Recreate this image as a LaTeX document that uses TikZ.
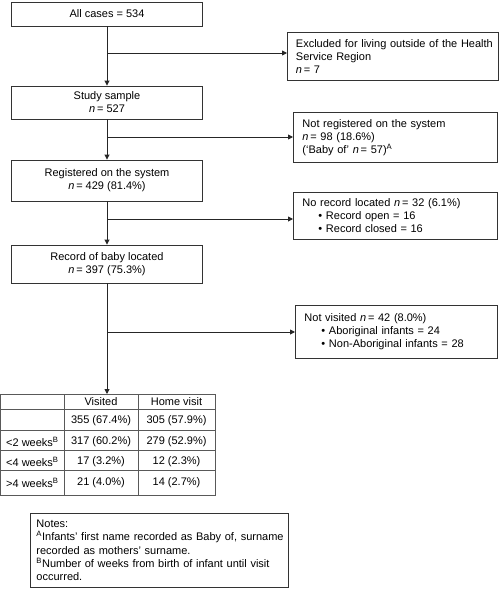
\documentclass[tikz,border=0pt]{standalone}
\usepackage{fontspec}
\setmainfont{Liberation Sans}
\usetikzlibrary{arrows.meta}
\begin{document}
\begin{tikzpicture}[x=1pt,y=1pt,
  every node/.style={font=\fontsize{11}{13}\selectfont, inner sep=0pt},
  lbox/.style={draw=black!80, line width=0.9pt, minimum width=191pt, align=center},
  rbox/.style={draw=black!80, line width=0.9pt, align=left, anchor=north west, inner xsep=9pt},
  conn/.style={draw=black!85, line width=0.9pt},
  arr/.style={conn, -{Triangle[length=5pt,width=5pt]}},
  tline/.style={draw=black!65, line width=0.9pt},
  celltxt/.style={anchor=center},
  rowhead/.style={anchor=west}]
\useasboundingbox (0,0) rectangle (500,-589);

% main column
\node[lbox, minimum height=24pt] (all) at (107,-14) {All cases = 534};
\node[lbox, minimum height=33pt] (study) at (107,-102.5) {Study sample\\ \textit{n}\,= 527};
\node[lbox, minimum height=41pt] (reg) at (107,-180.5) {Registered on the system\\ \textit{n}\,= 429 (81.4\%)};
\node[lbox, minimum height=38pt] (rec) at (107,-264) {Record of baby located\\ \textit{n}\,= 397 (75.3\%)};

% side boxes
\node[rbox, text width=194pt, inner xsep=8.5pt, minimum height=48pt] (excl) at (287,-32)
  {\mbox{Excluded for living outside of the Health}\\ \mbox{Service Region}\\ \textit{n}\,= 7};
\node[rbox, text width=186pt, minimum height=50pt] (notreg) at (293,-112)
  {\mbox{Not registered on the system}\\ \mbox{\textit{n}\,= 98 (18.6\%)}\\ \mbox{(‘Baby of’ \textit{n}\,= 57)\textsuperscript{A}}};
\node[rbox, text width=186pt, minimum height=47pt] (norec) at (293,-192)
  {\mbox{No record located \textit{n}\,= 32 (6.1\%)}\\ \mbox{\hspace*{16pt}\textbullet\ Record open = 16}\\ \mbox{\hspace*{16pt}\textbullet\ Record closed = 16}};
\node[rbox, text width=184pt, minimum height=53pt] (notvis) at (295,-305)
  {\mbox{Not visited \textit{n}\,= 42 (8.0\%)}\\ \mbox{\hspace*{17pt}\textbullet\ Aboriginal infants = 24}\\ \mbox{\hspace*{17pt}\textbullet\ Non-Aboriginal infants = 28}};

% connectors
\coordinate (b1) at (107,-53);
\coordinate (b2) at (107,-137);
\coordinate (b3) at (107,-219);
\coordinate (b4) at (107,-332);
\coordinate (tab) at (107,-394);
\draw[arr] (all.south) -- (study.north);
\draw[arr] (study.south) -- (reg.north);
\draw[arr] (reg.south) -- (rec.north);
\draw[arr] (rec.south) -- (tab);
\draw[arr] (b1) -- (b1 -| excl.west);
\draw[arr] (b2) -- (b2 -| notreg.west);
\draw[arr] (b3) -- (b3 -| norec.west);
\draw[arr] (b4) -- (b4 -| notvis.west);

% table
\draw[tline] (0.5,-394) rectangle (215,-495);
\foreach \yy in {409,430,450,470} \draw[tline] (0.5,-\yy) -- (215,-\yy);
\foreach \xx in {64,138} \draw[tline] (\xx,-394) -- (\xx,-495);

\node[celltxt] (h2) at (101,-402) {Visited};
\node[celltxt] (h3) at (176.5,-402) {Home visit};
\node[celltxt] (a2) at (101,-421) {355 (67.4\%)};
\node[celltxt] (a3) at (176.5,-421) {305 (57.9\%)};
\node[rowhead] (b1t) at (6,-442) {<2 weeks\textsuperscript{B}};
\node[celltxt] (b2t) at (101,-442) {317 (60.2\%)};
\node[celltxt] (b3t) at (176.5,-442) {279 (52.9\%)};
\node[rowhead] (c1t) at (6,-462) {<4 weeks\textsuperscript{B}};
\node[celltxt] (c2t) at (101,-462) {17 (3.2\%)};
\node[celltxt] (c3t) at (176.5,-462) {12 (2.3\%)};
\node[rowhead] (d1t) at (6,-482.5) {>4 weeks\textsuperscript{B}};
\node[celltxt] (d2t) at (101,-482.5) {21 (4.0\%)};
\node[celltxt] (d3t) at (176.5,-482.5) {14 (2.7\%)};

% notes
\node[rbox, text width=246pt, inner xsep=6pt, minimum height=74pt,
      font=\fontsize{11}{13.3}\selectfont] (notes) at (30,-513)
  {Notes:\\ \mbox{\textsuperscript{A}Infants’ first name recorded as Baby of, surname}\\ \mbox{recorded as mothers’ surname.}\\ \mbox{\textsuperscript{B}Number of weeks from birth of infant until visit}\\ occurred.};
\end{tikzpicture}
\end{document}
